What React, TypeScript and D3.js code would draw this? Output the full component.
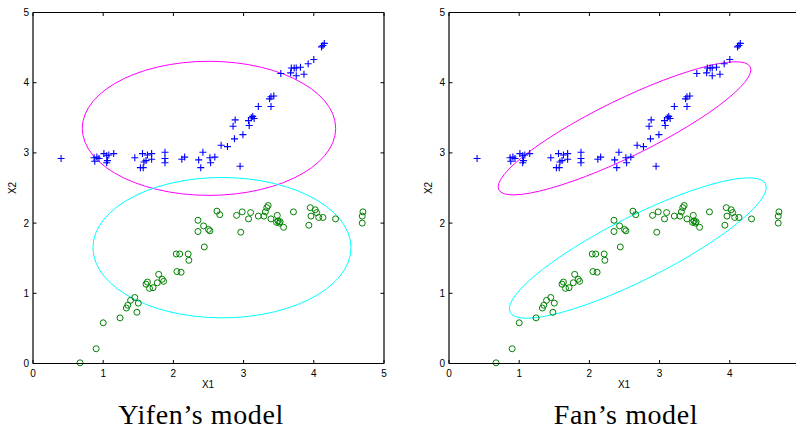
import React from "react";
import * as d3 from "d3";

const blueX = [0.40,0.87,0.88,0.91,0.94,1.01,1.05,1.06,1.05,1.08,1.15,1.45,1.56,1.53,1.57,1.58,1.61,1.63,1.69,1.69,1.88,1.88,1.88,2.12,2.16,2.36,2.39,2.42,2.52,2.53,2.59,2.68,2.77,2.95,2.87,2.99,2.85,2.88,3.07,3.08,3.11,3.13,3.15,3.21,3.37,3.39,3.43,3.39,3.53,3.68,3.72,3.75,3.81,3.67,3.75,3.86,3.92,4.00,4.11,4.13,4.15];
const blueY = [2.92,2.93,2.88,2.94,2.92,2.99,2.96,2.89,2.86,2.97,2.99,2.93,2.99,2.79,2.79,2.87,2.89,2.97,2.99,2.91,3.01,2.92,2.86,2.91,2.94,2.90,2.79,3.01,2.93,2.86,2.94,3.11,3.09,2.81,3.20,3.26,3.38,3.47,3.46,3.39,3.50,3.52,3.49,3.66,3.77,3.80,3.81,3.66,4.13,4.21,4.21,4.21,4.22,4.14,4.10,4.12,4.27,4.33,4.51,4.53,4.56];

const greenX = [0.67,0.90,1.00,1.24,1.33,1.35,1.39,1.45,1.50,1.48,1.61,1.63,1.66,1.71,1.77,1.79,1.84,1.86,2.04,2.09,2.21,2.22,2.05,2.11,2.35,2.35,2.43,2.50,2.52,2.44,2.62,2.66,2.90,2.98,2.96,3.07,3.10,3.21,3.29,3.31,3.33,3.35,3.39,3.48,3.47,3.49,3.52,3.51,3.57,3.71,3.95,3.96,3.93,4.02,4.04,4.07,4.13,4.31,4.70,4.69,4.69];
const greenY = [0.01,0.21,0.58,0.65,0.79,0.83,0.90,0.94,0.86,0.73,1.13,1.16,1.07,1.08,1.15,1.27,1.20,1.17,1.56,1.56,1.56,1.47,1.31,1.30,2.04,1.88,1.96,1.91,1.89,1.66,2.17,2.12,2.11,2.16,1.87,2.06,2.15,2.10,2.10,2.16,2.22,2.25,2.06,2.11,2.01,2.03,2.02,2.00,1.94,2.16,2.22,2.10,1.97,2.19,2.15,2.08,2.08,2.06,2.16,2.10,2.00];

const tickValues = [0, 1, 2, 3, 4, 5];
const titles = ["Yifen\u2019s model", "Fan\u2019s model"];

// ellipses: center x, center y, sd x, sd y, correlation
const yifenMagenta = [2.507, 3.35, 1.805, 0.955, 0];
const yifenCyan = [2.692, 1.65, 1.838, 1.0, 0];
const fanMagenta = [2.50, 3.35, 1.80, 0.948, 0.88];
const fanCyan = [2.69, 1.645, 1.83, 1.0, 0.865];

const W = 796, H = 432;
const plotW = 351;
const top = 12.5, bottom = 363.5;

function ellipsePts(p: number[]) {
  const [cx, cy, sx, sy, r] = p;
  const n = 60;
  return d3.range(n + 1).map((i) => {
    const t = (i / n) * 2 * Math.PI;
    return [cx + sx * Math.cos(t), cy + r * sy * Math.cos(t) + sy * Math.sqrt(1 - r * r) * Math.sin(t)] as [number, number];
  });
}

function Panel({ left, ellipses, title, showRight, titleX }: { left: number; ellipses: number[][]; title: string; showRight: boolean; titleX: number }) {
  const x = d3.scaleLinear().domain([0, 5]).range([left, left + plotW]);
  const y = d3.scaleLinear().domain([0, 5]).range([bottom, top]);
  const line = d3.line<[number, number]>().x((d) => x(d[0])).y((d) => y(d[1]));
  const colors = ["#ff00ff", "#00ffff"];
  const tl = 3.5;
  const right = left + plotW;
  const visX = tickValues.filter((v) => x(v) <= W - 2);
  return (
    <g>
      {ellipses.map((e, i) => (
        <path key={i} d={line(ellipsePts(e)) || ""} fill="none" stroke={colors[i]} strokeWidth={1} />
      ))}
      {blueX.map((v, i) => (
        <path key={"b" + i} d={`M${x(v) - 3.5},${y(blueY[i])}H${x(v) + 3.5}M${x(v)},${y(blueY[i]) - 3.5}V${y(blueY[i]) + 3.5}`} stroke="#0000ff" strokeWidth={1.1} />
      ))}
      {greenX.map((v, i) => (
        <circle key={"g" + i} cx={x(v)} cy={y(greenY[i])} r={3} fill="none" stroke="#008000" strokeWidth={1} />
      ))}
      <line x1={left} x2={left} y1={top} y2={bottom} stroke="#000" strokeWidth={1.2} />
      <line x1={left} x2={right} y1={bottom} y2={bottom} stroke="#000" strokeWidth={1.2} />
      <line x1={left} x2={right} y1={top} y2={top} stroke="#000" strokeWidth={1.2} />
      {showRight && <line x1={right} x2={right} y1={top} y2={bottom} stroke="#000" strokeWidth={1.2} />}
      {visX.map((v) => (
        <g key={"xt" + v}>
          <line x1={x(v)} x2={x(v)} y1={bottom} y2={bottom - tl} stroke="#000" />
          <line x1={x(v)} x2={x(v)} y1={top} y2={top + tl} stroke="#000" />
          <text x={x(v)} y={377} textAnchor="middle" fontSize={10} fontFamily="Liberation Sans, Arial, sans-serif">{v}</text>
        </g>
      ))}
      {tickValues.map((v) => (
        <g key={"yt" + v}>
          <line x1={left} x2={left + tl} y1={y(v)} y2={y(v)} stroke="#000" />
          {showRight && <line x1={right} x2={right - tl} y1={y(v)} y2={y(v)} stroke="#000" />}
          <text x={left - 4} y={y(v) + 3.5} textAnchor="end" fontSize={10} fontFamily="Liberation Sans, Arial, sans-serif">{v}</text>
        </g>
      ))}
      <text x={left + 175} y={388} textAnchor="middle" fontSize={10} fontFamily="Liberation Sans, Arial, sans-serif">X1</text>
      <text transform={`translate(${left - 17},188) rotate(-90)`} textAnchor="middle" fontSize={10} fontFamily="Liberation Sans, Arial, sans-serif">X2</text>
      <text x={titleX} y={424} textAnchor="middle" fontSize={28} letterSpacing={0.6} fontFamily="Liberation Serif, Times New Roman, serif">{title}</text>
    </g>
  );
}

export default function App() {
  return (
    <svg width={W} height={H} style={{ position: "absolute", left: 0, top: 0, background: "#fff" }}>
      <rect width={W} height={H} fill="#fff" />
      <Panel left={33} ellipses={[yifenMagenta, yifenCyan]} title={titles[0]} showRight={true} titleX={201} />
      <Panel left={449} ellipses={[fanMagenta, fanCyan]} title={titles[1]} showRight={false} titleX={626} />
    </svg>
  );
}
